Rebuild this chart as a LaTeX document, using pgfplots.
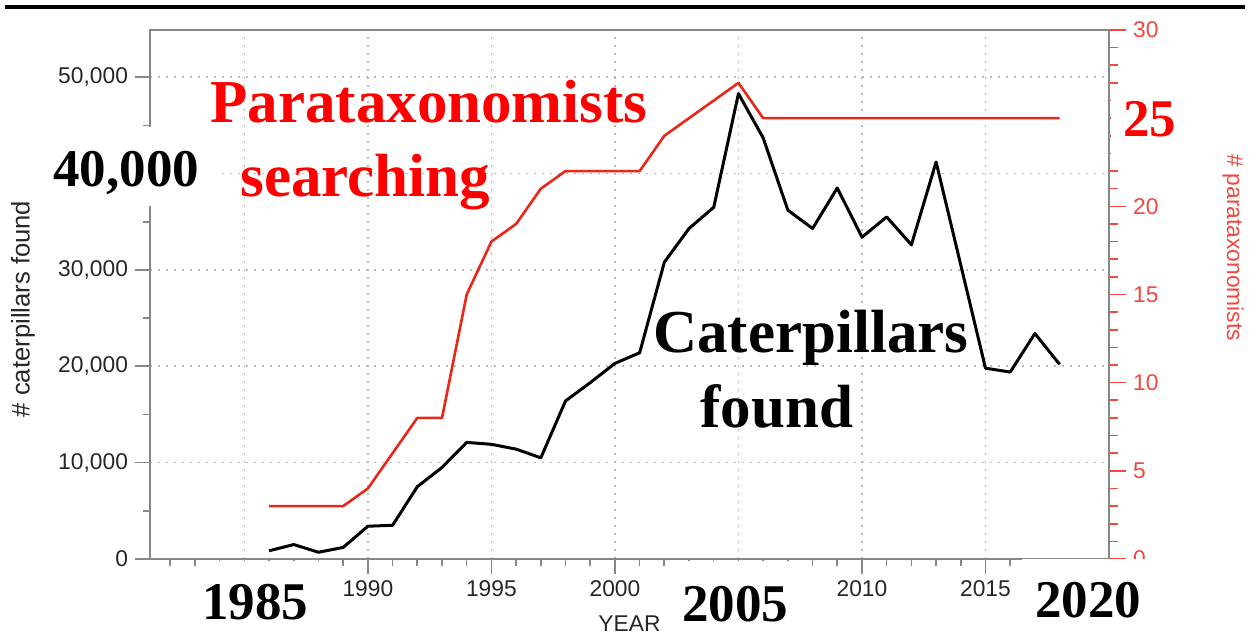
\documentclass[border=0pt]{standalone}
\usepackage{fontspec}
\setmainfont{Liberation Sans}
\newfontfamily\tnr{Liberation Serif}
\usepackage{pgfplots}
\pgfplotsset{compat=1.18}
\definecolor{spine}{RGB}{135,135,135}
\definecolor{gridc}{RGB}{185,185,185}
\definecolor{redline}{RGB}{232,38,26}
\definecolor{redtick}{RGB}{240,72,62}
\definecolor{tlab}{RGB}{38,38,38}
\newcommand\tlfont{\fontsize{11.4}{12}\selectfont}
\newcommand\bigfont{\tnr\bfseries\fontsize{30.5}{31}\selectfont}
\newcommand\numfont{\tnr\bfseries\fontsize{26.5}{27}\selectfont}
\begin{document}
\begin{tikzpicture}
\path[use as bounding box] (0,0) rectangle (625pt,317.5pt);
\begin{axis}[
  at={(75pt,38pt)}, anchor=south west,
  width=479.5pt, height=264.5pt, scale only axis,
  xmin=1981.18, xmax=2020, ymin=0, ymax=54900,
  xtick={1985,1990,...,2020},
  xticklabels={,1990,1995,2000,,2010,2015,},
  minor xtick={1982,...,2016},
  ytick={0,10000,...,50000},
  yticklabels={0,{10,000},{20,000},{30,000},,{50,000}},
  minor ytick={5000,15000,...,45000},
  xtick pos=left, ytick pos=left,
  tick align=outside,
  major tick length=7.5pt, minor tick length=3.75pt,
  tick style={spine, line width=0.8pt},
  axis line style={spine, line width=1pt},
  grid=major,
  major grid style={gridc, line width=0.8pt, dash pattern=on 0.8pt off 3.2pt},
  scaled y ticks=false,
  yticklabel style={font=\tlfont, text=tlab},
  xticklabel style={font=\tlfont, text=tlab},
  xlabel={YEAR}, ylabel={\# caterpillars found},
  every axis y label/.style={at={(axis description cs:-0.1324,0.4726)}, anchor=center, rotate=90, font=\fontsize{12.8}{13}\selectfont, text=tlab},
  every axis x label/.style={at={(axis description cs:0.5,-0.1229)}, anchor=center, font=\tlfont, text=tlab},
]
\addplot[black, line width=1.5pt, line join=round] coordinates {
(1986,850) (1987,1500) (1988,700) (1989,1200) (1990,3400) (1991,3500)
(1992,7500) (1993,9500) (1994,12100) (1995,11900) (1996,11400) (1997,10500)
(1998,16400) (1999,18300) (2000,20300) (2001,21400) (2002,30800) (2003,34300)
(2004,36500) (2005,48300) (2006,43700) (2007,36200) (2008,34300) (2009,38500)
(2010,33400) (2011,35500) (2012,32600) (2013,41200) (2014,30500) (2015,19800)
(2016,19400) (2017,23400) (2018,20200)
};
\end{axis}
\begin{axis}[
  at={(75pt,38pt)}, anchor=south west,
  width=479.5pt, height=264.5pt, scale only axis,
  xmin=1981.18, xmax=2020, ymin=0, ymax=30,
  axis x line=none,
  axis y line*=right,
  ytick={0,5,...,30},
  yticklabels={0,5,10,15,20,,30},
  minor ytick={1,...,29},
  tick align=outside,
  major tick length=8.5pt, minor tick length=4.5pt,
  tick style={redtick, line width=0.8pt},
  axis line style={spine, line width=1pt},
  yticklabel style={font=\tlfont, text=redtick},
  ylabel={\# parataxonomists},
  every axis y label/.style={at={(axis description cs:1.1293,0.588)}, anchor=center, rotate=-90, font=\tlfont, text=redtick},
]
\addplot[redline, line width=1.3pt, line join=round] coordinates {
(1986,3) (1987,3) (1988,3) (1989,3) (1990,4) (1991,6) (1992,8) (1993,8)
(1994,15) (1995,18) (1996,19) (1997,21) (1998,22) (1999,22) (2000,22) (2001,22)
(2002,24) (2003,25) (2004,26) (2005,27) (2006,25) (2007,25) (2008,25) (2009,25)
(2010,25) (2011,25) (2012,25) (2013,25) (2014,25) (2015,25) (2016,25) (2017,25)
(2018,25)
};
\end{axis}
\begin{scope}[x=0.5pt,y=-0.5pt,shift={(0pt,317.5pt)}]
\draw[black, line width=2pt] (5,7) -- (1245,7);
\fill[white] (40,127) rectangle (220,206);
\fill[white] (1111,90) rectangle (1185,162);
\fill[white] (200,561) rectangle (330,635);
\fill[white] (677,561) rectangle (800,611);
\fill[white] (1022,559.5) rectangle (1150,635);
\node[anchor=base west, inner sep=0, text=red, font=\bigfont] at (210,123) {Parataxonomists};
\node[anchor=base west, inner sep=0, text=red, font=\bigfont] at (240,197) {searching};
\node[anchor=base west, inner sep=0, text=black, font=\bigfont] at (653,353) {Caterpillars};
\node[anchor=base west, inner sep=0, text=black, font=\bigfont] at (700,428) {found};
\node[anchor=base west, inner sep=0, text=black, font=\numfont] at (53,187) {40,000};
\node[anchor=base west, inner sep=0, text=red, font=\numfont] at (1123,137) {25};
\node[anchor=base west, inner sep=0, text=black, font=\numfont] at (202,620) {1985};
\node[anchor=base west, inner sep=0, text=black, font=\numfont] at (682,622) {2005};
\node[anchor=base west, inner sep=0, text=black, font=\numfont] at (1035,618) {2020};
\end{scope}
\end{tikzpicture}
\end{document}
